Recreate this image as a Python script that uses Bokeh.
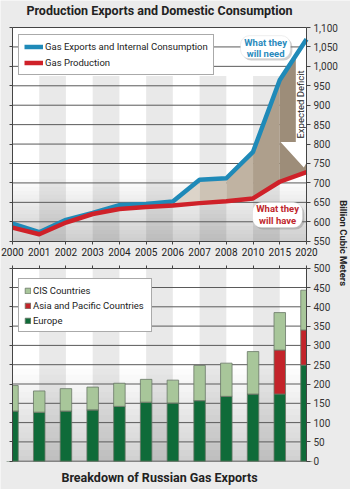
from math import pi
from bokeh.plotting import figure
from bokeh.models import (Range1d, LinearAxis, FixedTicker, NumeralTickFormatter, Legend,
                          LegendItem, Label, BoxAnnotation, ColumnDataSource)
from bokeh.core.properties import value
from bokeh.embed import file_html
from bokeh.resources import INLINE

# ---------------- data ----------------
years = ["2000", "2001", "2002", "2003", "2004", "2005", "2006", "2007", "2008", "2010", "2015", "2020"]
need = [595, 573, 605, 623, 643, 646, 652, 708, 712, 780, 965, 1070]   # Gas Exports and Internal Consumption
have = [585, 568, 598, 620, 633, 638, 642, 648, 653, 660, 703, 728]    # Gas Production
europe = [130, 127, 130, 133, 142, 153, 151, 157, 168, 174, 174, 249]
asia = [0, 0, 0, 0, 0, 0, 0, 0, 0, 0, 114, 91]
cis = [66, 55, 58, 59, 60, 59, 59, 91, 86, 110, 97, 103]

top_ticks = list(range(550, 1101, 50))
bar_ticks = list(range(0, 501, 50))

# ---------------- style / layout ----------------
FONT = "Roboto"
BG = "#ebebeb"
GRID = "#5a5a5a"
BLUE = "#1f8ab8"
RED = "#cf2129"
DARK = "#222222"
W, H = 350, 489

idx = list(range(len(years)))
X0, X1 = idx[0], idx[-1]
# plot areas: x 12..306 px ; top chart 27..241 px ; bottom chart 268..461 px
KX = 294 / (X1 - X0)
KT = 213.7 / (top_ticks[-1] - top_ticks[0])
KB = 193.0 / (bar_ticks[-1] - bar_ticks[0])
x_rng = Range1d(X0 - 12 / KX, X1 + 44 / KX)
top_rng = Range1d(top_ticks[-1] - (H - 27) / KT, top_ticks[-1] + 27 / KT)
bar_rng = Range1d(-(H - 460.7) / KB, 460.7 / KB)

p = figure(width=W, height=H, x_range=x_rng, y_range=top_rng,
           x_axis_type=None, y_axis_type=None, toolbar_location=None, output_backend="svg",
           min_border=0, background_fill_color=BG, border_fill_color=BG, outline_line_color=None)
p.title.visible = False
p.extra_y_ranges = {"bars": bar_rng}

# ---------- plot-area backgrounds ----------
p.quad(left=X0, right=X1, bottom=top_ticks[0], top=top_ticks[-1], fill_color="white", line_color=None)
p.quad(left=X0, right=X1, bottom=bar_ticks[0], top=bar_ticks[-1], fill_color="white", line_color=None,
       y_range_name="bars")

# soft grey shading toward the bottom of each plot area (style only)
NB = 16
tb = [550 + 10 * k for k in range(NB)]
p.quad(left=X0, right=X1, bottom=tb, top=[b + 10 for b in tb], fill_color="black",
       fill_alpha=[0.19 * (1 - k / NB) for k in range(NB)], line_color=None)
bb = [0 + 15 * k for k in range(NB)]
p.quad(left=X0, right=X1, bottom=bb, top=[b + 15 for b in bb], fill_color="black",
       fill_alpha=[0.18 * (1 - k / NB) for k in range(NB)], line_color=None, y_range_name="bars")

stripe_l = [i for i in idx[:-1] if i % 2 == 1]
stripe_r = [i + 1 for i in stripe_l]
p.quad(left=stripe_l, right=stripe_r, bottom=550, top=975, fill_color="black", fill_alpha=0.085, line_color=None)
p.quad(left=stripe_l, right=stripe_r, bottom=0, top=500, fill_color="black", fill_alpha=0.085, line_color=None,
       y_range_name="bars")

# grid lines
gt = top_ticks[1:-1]
p.segment(x0=X0, x1=X1, y0=gt, y1=gt, line_color=GRID, line_width=1)
gb = bar_ticks[:-1]
p.segment(x0=X0, x1=X1, y0=gb, y1=gb, line_color=GRID, line_width=1, y_range_name="bars")

# ---------- deficit area ----------
deficit_colors = ["#dcd4c9", "#cdc3b5", "#c0b3a2", "#ae9f8c", "#9d8d79"]
for k, i in enumerate(range(6, 11)):
    p.varea(x=[i, i + 1], y1=have[i:i + 2], y2=need[i:i + 2], fill_color=deficit_colors[k])

# white arrow behind "Expected Deficit"
arrow_x = [10.6, 10.6, 10.03, 10.9, 11.0, 11.0]
arrow_y = [1028, 805, 805, 740, 752, 1070]
p.patch(x=arrow_x, y=arrow_y, fill_color="white", line_color=None)
p.text(x=[10.79], y=[902], text=["Expected Deficit"], angle=pi / 2, text_align="center",
       text_baseline="middle", text_font=value(FONT), text_font_size="9.5px", text_color=DARK)

# ---------- lines ----------
r_need = p.line(idx, need, line_color=BLUE, line_width=4.5, line_join="round")
r_have = p.line(idx, have, line_color=RED, line_width=4.5, line_join="round")

# ---------- bars ----------
src = ColumnDataSource(dict(x=idx, europe=europe, asia=asia, cis=cis))
bars = p.vbar_stack(["europe", "asia", "cis"], x="x", width=0.43, source=src,
                    fill_color=["#0f6b39", "#c3242a", "#a8c69a"], line_color="#6a7767", line_width=0.8,
                    y_range_name="bars")
# page-colour masks so the end bars are cut at the plot edges
p.quad(left=[x_rng.start, X1], right=[X0, x_rng.end], bottom=bar_ticks[0], top=bar_ticks[-1],
       fill_color=BG, line_color=None, y_range_name="bars")

# ---------- axes ----------
def axis_style(ax, labels=True):
    ax.axis_line_color = "#444444"
    ax.major_tick_line_color = "#444444"
    ax.minor_tick_line_color = None
    ax.major_tick_in = 0
    ax.major_label_text_font = FONT
    ax.major_label_text_font_size = "10px"
    ax.major_label_text_color = "#333333" if labels else None
    return ax

ax = axis_style(LinearAxis(ticker=FixedTicker(ticks=top_ticks), formatter=NumeralTickFormatter(format="0,0"),
                           bounds=(550, 1100), fixed_location=X1))
ax.major_tick_out = 4
ax.major_label_standoff = 3
p.add_layout(ax, "right")

ax = axis_style(LinearAxis(ticker=FixedTicker(ticks=bar_ticks), y_range_name="bars",
                           bounds=(0, 500), fixed_location=X1))
ax.major_tick_out = 4
ax.major_label_standoff = 3
p.add_layout(ax, "right")

ax = axis_style(LinearAxis(ticker=FixedTicker(ticks=top_ticks), bounds=(550, 1100), fixed_location=X0), False)
ax.major_tick_out = 3
p.add_layout(ax, "left")
ax = axis_style(LinearAxis(ticker=FixedTicker(ticks=bar_ticks), y_range_name="bars", bounds=(0, 500),
                           fixed_location=X0), False)
ax.major_tick_out = 3
p.add_layout(ax, "left")

# year labels under the top chart
ax = axis_style(LinearAxis(ticker=FixedTicker(ticks=idx), fixed_location=550, bounds=(X0, X1),
                           major_label_overrides={i: y for i, y in zip(idx, years)}))
ax.major_tick_out = 3
ax.major_label_standoff = 4
ax.major_label_text_color = DARK
p.add_layout(ax, "below")

ax = axis_style(LinearAxis(ticker=FixedTicker(ticks=[]), fixed_location=1100, bounds=(X0, X1)), False)
p.add_layout(ax, "above")
ax = axis_style(LinearAxis(ticker=FixedTicker(ticks=idx), y_range_name="bars", fixed_location=500,
                           bounds=(X0, X1)), False)
ax.major_tick_out = 3
p.add_layout(ax, "above")

# ---------- callouts ----------
def callout(left, right, top, bottom, lines, ys, xc, color):
    p.add_layout(BoxAnnotation(left=left + 0.07, right=right + 0.07, top=top - 5, bottom=bottom - 5,
                               fill_color="#777777", fill_alpha=0.35, line_color=None, border_radius=9))
    p.add_layout(BoxAnnotation(left=left, right=right, top=top, bottom=bottom, fill_color="white",
                               fill_alpha=1, line_color="#c8c8c8", line_width=1, border_radius=9))
    for t, y in zip(lines, ys):
        p.add_layout(Label(x=xc, y=y, text=t, text_align="center", text_baseline="middle",
                           text_font=FONT, text_font_size="9.5px", text_font_style="bold",
                           text_color=color))

callout(8.53, 10.4, 1079, 1020, ["What they", "will need"], [1061, 1034], 9.47, "#2a8bbd")
callout(8.98, 10.85, 650, 585, ["What they", "will have"], [634, 604], 9.92, "#c0272d")

# ---------- legends ----------
common = dict(margin=0, padding=5, spacing=3, border_line_color="#555555", border_line_width=1,
              background_fill_color="white", background_fill_alpha=1, label_text_font=FONT,
              label_text_font_size="9.5px", label_text_color=DARK, label_standoff=2)
leg1 = Legend(items=[LegendItem(label="Gas Exports and Internal Consumption", renderers=[r_need]),
                     LegendItem(label="Gas Production", renderers=[r_have])],
              location=(18, H - 75), label_height=13, glyph_height=13, glyph_width=19, label_width=163, **common)
p.add_layout(leg1)
leg2 = Legend(items=[LegendItem(label="CIS Countries", renderers=[bars[2]]),
                     LegendItem(label="Asia and Pacific Countries", renderers=[bars[1]]),
                     LegendItem(label="Europe", renderers=[bars[0]])],
              location=(18, H - 332), label_height=12, glyph_height=7, glyph_width=7, label_width=113, **common)
p.add_layout(leg2)

# ---------- titles ----------
XC = (X0 + X1) / 2
p.add_layout(Label(x=XC, y=top_ticks[-1] + 17 / KT, text="Production Exports and Domestic Consumption",
                   text_align="center", text_baseline="middle", text_font=FONT, text_font_size="12.5px",
                   text_font_style="bold", text_color=DARK))
p.add_layout(Label(x=XC, y=-16.5 / KB, y_range_name="bars", text="Breakdown of Russian Gas Exports",
                   text_align="center", text_baseline="middle", text_font=FONT, text_font_size="12.5px",
                   text_font_style="bold", text_color=DARK))
p.add_layout(Label(x=X1, y=545, x_offset=37, text="Billion Cubic Meters", angle=-pi / 2,
                   text_align="center", text_baseline="middle", text_font=FONT,
                   text_font_size="9.5px", text_font_style="bold", text_color=DARK))

open("out.html", "w").write(file_html(p, INLINE))
